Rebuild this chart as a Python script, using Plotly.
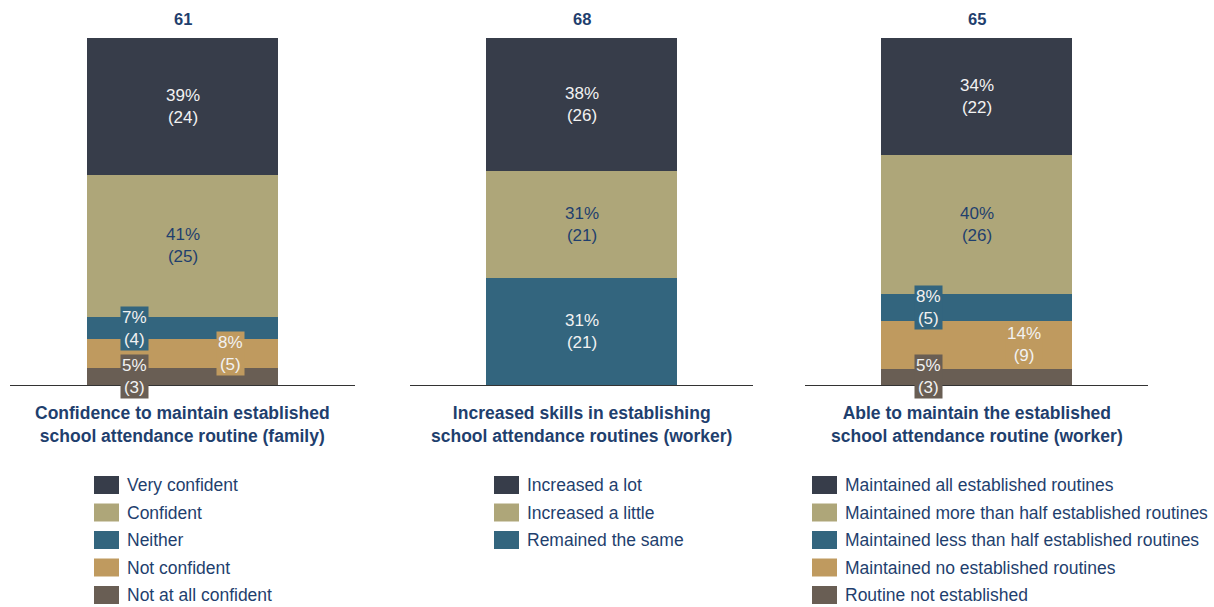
import plotly.graph_objects as go

# ---- data ----
panel_titles = [
    "Confidence to maintain established<br>school attendance routine (family)",
    "Increased skills in establishing<br>school attendance routines (worker)",
    "Able to maintain the established<br>school attendance routine (worker)",
]
family_cats = ["Very confident", "Confident", "Neither", "Not confident", "Not at all confident"]
family_counts = [24, 25, 4, 5, 3]
skills_cats = ["Increased a lot", "Increased a little", "Remained the same"]
skills_counts = [26, 21, 21]
maintain_cats = [
    "Maintained all established routines",
    "Maintained more than half established routines",
    "Maintained less than half established routines",
    "Maintained no established routines",
    "Routine not established",
]
maintain_counts = [22, 26, 5, 9, 3]

palette = ["#373d4a", "#aea679", "#33657e", "#bf9a5f", "#695e54"]
label_colors = ["#f2f2f2", "#1f3f6e", "#f2f2f2", "#f2f2f2", "#f2f2f2"]
NAVY = "#1f3f6e"
FONT = "Arial, Liberation Sans, sans-serif"

panels = [
    (family_cats, family_counts),
    (skills_cats, skills_counts),
    (maintain_cats, maintain_counts),
]

W, H = 1214, 607
TOP, BASE = 38, 385  # pixel rows of the 100% line and the baseline
PLOT_H = BASE - TOP

axis_px = [(10, 355), (410, 753), (805, 1148)]
legend_x = [94, 494, 812]
legend_rows = [485, 512.5, 540, 567.5, 595]
BAR_W = 0.554


def px_x(p):
    return p / W


def px_y(p):
    return (BASE - p) / PLOT_H


fig = go.Figure()
annotations = []
shapes = []

for i, (cats, counts) in enumerate(panels):
    total = sum(counts)
    xa = "x" if i == 0 else f"x{i + 1}"
    ya = "y" if i == 0 else f"y{i + 1}"
    shares = [c / total for c in counts]

    # stack from the bottom category upward
    for j in reversed(range(len(cats))):
        fig.add_trace(go.Bar(
            x=[0], y=[shares[j]], width=BAR_W,
            marker=dict(color=palette[j], line=dict(width=0)),
            name=cats[j], showlegend=False, hoverinfo="skip",
            xaxis=xa, yaxis=ya,
        ))

    # segment labels
    cum = 0.0
    for j in reversed(range(len(cats))):
        mid = cum + shares[j] / 2
        cum += shares[j]
        pct = round(shares[j] * 100)
        small = shares[j] < 0.15
        if small:
            xoff = -BAR_W / 4 if j % 2 == 0 else BAR_W / 4
        else:
            xoff = 0
        annotations.append(dict(
            x=xoff, y=mid, xref=xa, yref=ya, xanchor="center", yanchor="middle",
            text=f"{pct}%<br>({counts[j]})", showarrow=False,
            font=dict(family=FONT, size=17, color=label_colors[j]),
            bgcolor=palette[j] if small else None,
            borderpad=1, align="center",
        ))

    cx = (axis_px[i][0] + axis_px[i][1]) / 2
    # total count above the bar
    annotations.append(dict(
        x=px_x(cx), y=1, xref="paper", yref="paper",
        xanchor="center", yanchor="bottom", yshift=8,
        text=f"<b>{total}</b>", showarrow=False,
        font=dict(family=FONT, size=16.5, color=NAVY),
    ))
    # panel title under the baseline
    annotations.append(dict(
        x=px_x(cx), y=0, xref="paper", yref="paper",
        xanchor="center", yanchor="top", yshift=-16,
        text=f"<b>{panel_titles[i]}</b>", showarrow=False, align="center",
        font=dict(family=FONT, size=17.5, color=NAVY),
    ))
    # legend
    for j, cat in enumerate(cats):
        yc = legend_rows[j]
        shapes.append(dict(
            type="rect", xref="paper", yref="paper",
            x0=px_x(legend_x[i]), x1=px_x(legend_x[i] + 25),
            y0=px_y(yc + 9), y1=px_y(yc - 9),
            fillcolor=palette[j], line=dict(width=0),
        ))
        annotations.append(dict(
            x=px_x(legend_x[i] + 31), y=px_y(yc), xref="paper", yref="paper",
            xanchor="left", yanchor="middle", text=cat, showarrow=False,
            font=dict(family=FONT, size=17.5, color=NAVY),
        ))

layout_axes = {}
for i, (a, b) in enumerate(axis_px):
    xk = "xaxis" if i == 0 else f"xaxis{i + 1}"
    yk = "yaxis" if i == 0 else f"yaxis{i + 1}"
    ya = "y" if i == 0 else f"y{i + 1}"
    xa = "x" if i == 0 else f"x{i + 1}"
    layout_axes[xk] = dict(
        domain=[px_x(a), px_x(b)], range=[-0.5, 0.5], anchor=ya,
        showline=True, linecolor="#333333", linewidth=1,
        showgrid=False, zeroline=False, showticklabels=False, ticks="",
        fixedrange=True,
    )
    layout_axes[yk] = dict(
        domain=[0, 1], range=[0, 1], anchor=xa,
        showline=False, showgrid=False, zeroline=False,
        showticklabels=False, ticks="", fixedrange=True,
    )

fig.update_layout(
    width=W, height=H,
    margin=dict(l=0, r=0, t=TOP, b=H - BASE),
    barmode="stack", bargap=0,
    plot_bgcolor="white", paper_bgcolor="white",
    showlegend=False,
    annotations=annotations, shapes=shapes,
    **layout_axes,
)

fig.write_html("out.html")
